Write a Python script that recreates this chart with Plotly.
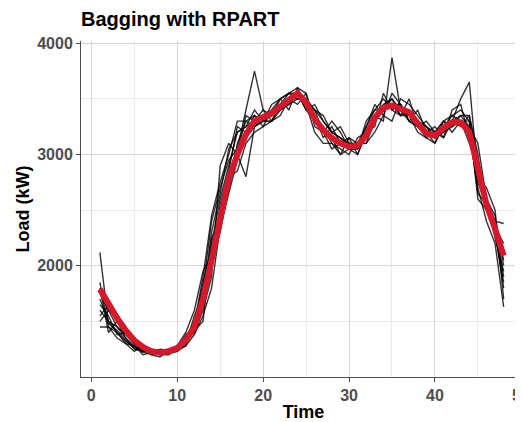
import plotly.graph_objects as go

time = list(range(1, 49))

# averaged bagged prediction (red)
bagged_mean = [1790, 1650, 1530, 1420, 1330, 1270, 1230, 1220, 1230, 1260, 1330, 1450,
               1700, 2050, 2450, 2780, 3000, 3180, 3300, 3330, 3370, 3430, 3490, 3550,
               3470, 3320, 3220, 3150, 3100, 3070, 3080, 3170, 3330, 3420, 3440, 3410,
               3380, 3280, 3190, 3170, 3240, 3290, 3290, 3200, 2850, 2550, 2330, 2090]

# individual rpart predictions (black)
tree_preds = [
    [2120, 1480, 1420, 1330, 1260, 1240, 1230, 1220, 1220, 1240, 1300, 1420, 1500, 2200, 2600, 2900, 3200, 3250, 3300, 3350, 3400, 3500, 3550, 3600,
     3450, 3200, 3100, 3100, 3000, 3050, 3050, 3300, 3400, 3400, 3500, 3400, 3300, 3250, 3200, 3200, 3300, 3350, 3400, 3300, 2600, 2500, 2400, 2380],
    [1800, 1400, 1500, 1400, 1300, 1280, 1200, 1180, 1250, 1280, 1400, 1600, 1950, 2100, 2300, 2700, 3100, 3300, 3350, 3250, 3300, 3400, 3450, 3500,
     3500, 3400, 3300, 3200, 3150, 3100, 3100, 3100, 3300, 3450, 3500, 3350, 3400, 3300, 3200, 3150, 3200, 3250, 3300, 3100, 2900, 2600, 2400, 1900],
    [1500, 1600, 1450, 1350, 1250, 1230, 1250, 1200, 1200, 1250, 1280, 1500, 1800, 2400, 2700, 2950, 3050, 3400, 3750, 3400, 3300, 3350, 3500, 3550,
     3400, 3300, 3250, 3100, 3050, 3000, 3150, 3200, 3350, 3300, 3870, 3400, 3350, 3200, 3150, 3100, 3250, 3300, 3500, 3650, 2800, 2700, 2500, 1700],
    [1450, 1450, 1350, 1300, 1280, 1200, 1220, 1230, 1210, 1230, 1350, 1400, 1600, 1900, 2900, 3100, 3000, 2800, 3250, 3300, 3450, 3500, 3400, 3600,
     3550, 3250, 3200, 3050, 3100, 3150, 3000, 3200, 3250, 3550, 3400, 3450, 3300, 3250, 3150, 3200, 3150, 3300, 3250, 3350, 3000, 2500, 2300, 1850],
    [1650, 1550, 1380, 1400, 1350, 1250, 1210, 1230, 1250, 1270, 1300, 1550, 1750, 2000, 2550, 2850, 3250, 3200, 3350, 3300, 3300, 3450, 3550, 3500,
     3500, 3350, 3150, 3250, 3100, 3050, 3100, 3250, 3450, 3350, 3300, 3500, 3450, 3350, 3250, 3150, 3250, 3350, 3300, 3200, 2700, 2400, 2200, 1630],
    [1700, 1500, 1450, 1380, 1300, 1260, 1240, 1210, 1230, 1260, 1320, 1400, 1650, 2250, 2400, 2700, 3000, 3350, 3300, 3400, 3350, 3400, 3450, 3550,
     3400, 3450, 3300, 3200, 3250, 3100, 3050, 3150, 3350, 3400, 3450, 3350, 3500, 3250, 3300, 3200, 3300, 3250, 3350, 3250, 3100, 2600, 2450, 2000],
    [1850, 1450, 1400, 1300, 1230, 1280, 1220, 1250, 1240, 1250, 1380, 1450, 1850, 2150, 2500, 2800, 2850, 3100, 3200, 3250, 3400, 3450, 3500, 3450,
     3550, 3300, 3250, 3150, 3000, 3150, 3100, 3100, 3200, 3350, 3550, 3450, 3300, 3400, 3200, 3250, 3150, 3400, 3450, 3150, 2900, 2500, 2350, 2200],
    [1550, 1650, 1500, 1350, 1280, 1230, 1200, 1230, 1220, 1280, 1350, 1500, 1700, 2300, 2650, 3050, 3200, 3250, 3400, 3300, 3350, 3500, 3550, 3550,
     3450, 3350, 3200, 3300, 3200, 3050, 3050, 3250, 3400, 3500, 3400, 3350, 3350, 3300, 3200, 3100, 3300, 3200, 3300, 3300, 2750, 2550, 2300, 1800],
    [1600, 1500, 1400, 1320, 1270, 1250, 1230, 1200, 1220, 1230, 1280, 1380, 1550, 1800, 2350, 2650, 2950, 3150, 3250, 3350, 3350, 3400, 3500, 3500,
     3500, 3400, 3200, 3150, 3100, 3100, 3100, 3150, 3300, 3400, 3450, 3400, 3400, 3300, 3250, 3200, 3250, 3300, 3300, 3250, 2650, 2550, 2400, 2050],
    [1750, 1600, 1550, 1450, 1300, 1220, 1250, 1240, 1250, 1270, 1330, 1480, 1900, 2450, 2750, 3000, 3300, 3300, 3250, 3300, 3300, 3450, 3500, 3550,
     3450, 3400, 3350, 3200, 3150, 3050, 3000, 3200, 3300, 3450, 3450, 3450, 3350, 3300, 3250, 3150, 3200, 3300, 3350, 3350, 2950, 2600, 2250, 1950],
]

fig = go.Figure()
for pred in tree_preds:
    fig.add_trace(go.Scatter(x=time, y=pred, mode="lines",
                             line=dict(color="rgba(0,0,0,0.8)", width=1.4),
                             showlegend=False, hoverinfo="skip"))
fig.add_trace(go.Scatter(x=time, y=bagged_mean, mode="lines",
                         line=dict(color="#d7182a", width=6),
                         showlegend=False))

axis_font = dict(family="Liberation Sans, Arial", size=16, color="#4d4d4d", weight="bold")
fig.update_layout(
    width=523, height=422,
    margin=dict(l=73, r=5, t=33, b=53),
    plot_bgcolor="white", paper_bgcolor="white",
    title=dict(text="<b>Bagging with RPART</b>", x=0.0, xref="paper", y=0.99, yanchor="top",
               font=dict(family="Liberation Sans, Arial", size=20, color="black")),
    font=dict(family="Liberation Sans, Arial"),
)
fig.update_xaxes(range=[-1.2, 50.6], tickvals=[0, 10, 20, 30, 40, 50], automargin=False,
                 ticklabeloverflow="allow",
                 tickfont=axis_font, title=dict(text="<b>Time</b>", font=dict(size=18, color="black"), standoff=2),
                 showgrid=True, gridcolor="#d6d6d6", gridwidth=1,
                 minor=dict(tickvals=[5, 15, 25, 35, 45], showgrid=True, gridcolor="#ebebeb"),
                 showline=True, linecolor="#4d4d4d", linewidth=1,
                 ticks="outside", ticklen=4, tickcolor="#4d4d4d", zeroline=False)
fig.update_yaxes(range=[1000, 4020], tickvals=[2000, 3000, 4000], automargin=False,
                 tickfont=axis_font, title=dict(text="<b>Load (kW)</b>", font=dict(size=18, color="black"), standoff=2),
                 showgrid=True, gridcolor="#d6d6d6", gridwidth=1,
                 minor=dict(tickvals=[1500, 2500, 3500], showgrid=True, gridcolor="#ebebeb"),
                 showline=True, linecolor="#4d4d4d", linewidth=1,
                 ticks="outside", ticklen=4, tickcolor="#4d4d4d", zeroline=False)

fig.write_html("out.html")
